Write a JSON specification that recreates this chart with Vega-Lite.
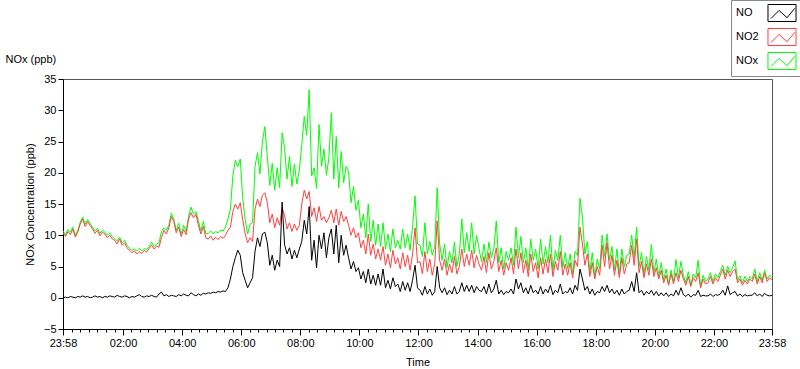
{
"$schema": "https://vega.github.io/schema/vega-lite/v6.json",
"width": 709, "height": 250,
"autosize": {"type": "none"},
"padding": {"left": 63, "top": 79, "right": 28, "bottom": 40},
"background": "white",
"config": {
  "font": "Liberation Sans",
  "view": {"stroke": "#555", "strokeWidth": 1},
  "axis": {"labelFont": "Liberation Sans", "labelFontSize": 11, "labelColor": "#000", "titleFont": "Liberation Sans", "titleFontSize": 11, "titleFontWeight": "normal", "titleColor": "#000", "domainColor": "#000", "tickColor": "#000", "grid": false},
  "axisY": {"labelOverlap": false}
},
"data": {"values": [
{"t":0,"NO":0.0,"NO2":10.4,"NOx":10.7},{"t":5,"NO":0.1,"NO2":9.8,"NOx":10.1},{"t":10,"NO":0.0,"NO2":10.6,"NOx":10.9},{"t":15,"NO":0.2,"NO2":10.1,"NOx":10.5},{"t":20,"NO":0.1,"NO2":11.0,"NOx":11.3},{"t":25,"NO":0.0,"NO2":9.7,"NOx":10.0},{"t":30,"NO":0.2,"NO2":10.5,"NOx":10.8},{"t":35,"NO":0.1,"NO2":11.8,"NOx":12.1},{"t":40,"NO":0.3,"NO2":12.6,"NOx":12.9},{"t":45,"NO":0.1,"NO2":11.4,"NOx":11.8},
{"t":50,"NO":0.2,"NO2":12.2,"NOx":12.5},{"t":55,"NO":0.0,"NO2":11.6,"NOx":11.9},{"t":60,"NO":0.1,"NO2":11.0,"NOx":11.3},{"t":65,"NO":0.3,"NO2":10.3,"NOx":10.7},{"t":70,"NO":0.1,"NO2":10.8,"NOx":11.1},{"t":75,"NO":0.2,"NO2":9.9,"NOx":10.3},{"t":80,"NO":0.0,"NO2":10.5,"NOx":10.8},{"t":85,"NO":0.2,"NO2":10.2,"NOx":10.5},{"t":90,"NO":0.1,"NO2":9.6,"NOx":10.0},{"t":95,"NO":0.3,"NO2":10.0,"NOx":10.4},
{"t":100,"NO":0.2,"NO2":9.4,"NOx":9.8},{"t":105,"NO":0.1,"NO2":9.2,"NOx":9.5},{"t":110,"NO":0.4,"NO2":8.6,"NOx":9.1},{"t":115,"NO":0.2,"NO2":9.4,"NOx":9.7},{"t":120,"NO":0.1,"NO2":8.4,"NOx":8.8},{"t":125,"NO":0.3,"NO2":8.8,"NOx":9.2},{"t":130,"NO":0.2,"NO2":8.0,"NOx":8.4},{"t":135,"NO":0.0,"NO2":7.6,"NOx":7.9},{"t":140,"NO":0.2,"NO2":7.2,"NOx":7.6},{"t":145,"NO":0.1,"NO2":7.5,"NOx":7.8},
{"t":150,"NO":0.3,"NO2":7.0,"NOx":7.5},{"t":155,"NO":0.5,"NO2":7.4,"NOx":7.9},{"t":160,"NO":0.2,"NO2":7.1,"NOx":7.5},{"t":165,"NO":0.1,"NO2":7.6,"NOx":7.9},{"t":170,"NO":0.3,"NO2":7.3,"NOx":7.7},{"t":175,"NO":0.2,"NO2":7.9,"NOx":8.2},{"t":180,"NO":0.4,"NO2":8.4,"NOx":8.9},{"t":185,"NO":0.2,"NO2":7.8,"NOx":8.2},{"t":190,"NO":0.1,"NO2":8.3,"NOx":8.6},{"t":195,"NO":0.6,"NO2":8.1,"NOx":8.8},
{"t":200,"NO":0.9,"NO2":9.6,"NOx":10.6},{"t":205,"NO":0.3,"NO2":10.8,"NOx":11.2},{"t":210,"NO":0.5,"NO2":10.2,"NOx":10.8},{"t":215,"NO":0.2,"NO2":11.2,"NOx":11.6},{"t":220,"NO":0.4,"NO2":13.0,"NOx":13.5},{"t":225,"NO":0.3,"NO2":12.2,"NOx":12.6},{"t":230,"NO":0.2,"NO2":10.4,"NOx":10.8},{"t":235,"NO":0.5,"NO2":11.3,"NOx":11.9},{"t":240,"NO":0.3,"NO2":9.8,"NOx":10.2},{"t":245,"NO":0.6,"NO2":10.9,"NOx":11.6},
{"t":250,"NO":0.4,"NO2":10.1,"NOx":10.6},{"t":255,"NO":0.3,"NO2":12.6,"NOx":13.0},{"t":260,"NO":0.8,"NO2":13.6,"NOx":14.5},{"t":265,"NO":0.5,"NO2":12.8,"NOx":13.4},{"t":270,"NO":0.3,"NO2":13.4,"NOx":13.8},{"t":275,"NO":0.6,"NO2":11.6,"NOx":12.3},{"t":280,"NO":0.4,"NO2":10.2,"NOx":10.7},{"t":285,"NO":0.7,"NO2":11.4,"NOx":12.2},{"t":290,"NO":0.6,"NO2":9.6,"NOx":10.3},{"t":295,"NO":0.8,"NO2":9.4,"NOx":10.3},
{"t":300,"NO":0.7,"NO2":9.9,"NOx":10.7},{"t":305,"NO":0.9,"NO2":9.2,"NOx":10.2},{"t":310,"NO":0.8,"NO2":9.7,"NOx":10.6},{"t":315,"NO":1.0,"NO2":9.3,"NOx":10.4},{"t":320,"NO":0.9,"NO2":9.8,"NOx":10.8},{"t":325,"NO":1.1,"NO2":9.5,"NOx":10.7},{"t":330,"NO":1.0,"NO2":10.0,"NOx":11.3},{"t":335,"NO":1.6,"NO2":10.8,"NOx":12.6},{"t":340,"NO":3.0,"NO2":11.3,"NOx":14.2},{"t":345,"NO":5.0,"NO2":13.8,"NOx":19.5},
{"t":350,"NO":6.4,"NO2":15.0,"NOx":22.0},{"t":355,"NO":7.6,"NO2":14.2,"NOx":21.0},{"t":360,"NO":6.8,"NO2":15.2,"NOx":22.2},{"t":365,"NO":4.0,"NO2":12.5,"NOx":16.0},{"t":370,"NO":2.8,"NO2":10.2,"NOx":12.5},{"t":375,"NO":1.6,"NO2":8.8,"NOx":10.2},{"t":380,"NO":2.4,"NO2":9.6,"NOx":11.8},{"t":385,"NO":3.2,"NO2":9.0,"NOx":12.0},{"t":390,"NO":7.4,"NO2":14.2,"NOx":21.0},{"t":395,"NO":9.6,"NO2":15.8,"NOx":23.2},
{"t":400,"NO":8.2,"NO2":14.6,"NOx":19.8},{"t":405,"NO":10.2,"NO2":16.4,"NOx":25.0},{"t":410,"NO":10.5,"NO2":16.8,"NOx":27.4},{"t":415,"NO":8.8,"NO2":15.2,"NOx":22.5},{"t":420,"NO":5.2,"NO2":12.0,"NOx":18.0},{"t":425,"NO":6.8,"NO2":13.4,"NOx":21.5},{"t":430,"NO":4.4,"NO2":11.2,"NOx":17.2},{"t":435,"NO":6.0,"NO2":12.8,"NOx":20.8},{"t":440,"NO":5.0,"NO2":11.6,"NOx":17.6},{"t":445,"NO":15.3,"NO2":14.4,"NOx":26.4},
{"t":450,"NO":8.5,"NO2":13.2,"NOx":24.0},{"t":455,"NO":7.0,"NO2":11.0,"NOx":19.0},{"t":460,"NO":8.0,"NO2":12.0,"NOx":22.6},{"t":465,"NO":6.2,"NO2":10.6,"NOx":17.8},{"t":470,"NO":7.6,"NO2":11.8,"NOx":21.4},{"t":475,"NO":6.4,"NO2":10.8,"NOx":18.2},{"t":480,"NO":7.8,"NO2":11.6,"NOx":20.4},{"t":485,"NO":9.0,"NO2":15.0,"NOx":24.5},{"t":490,"NO":12.4,"NO2":17.2,"NOx":29.0},{"t":495,"NO":10.2,"NO2":15.8,"NOx":26.0},
{"t":500,"NO":14.6,"NO2":17.0,"NOx":33.3},{"t":505,"NO":6.0,"NO2":13.0,"NOx":19.5},{"t":510,"NO":9.2,"NO2":14.4,"NOx":20.8},{"t":515,"NO":4.8,"NO2":12.2,"NOx":17.5},{"t":520,"NO":10.0,"NO2":14.6,"NOx":27.7},{"t":525,"NO":7.8,"NO2":12.4,"NOx":21.0},{"t":530,"NO":10.4,"NO2":13.0,"NOx":23.8},{"t":535,"NO":6.4,"NO2":12.0,"NOx":19.6},{"t":540,"NO":9.6,"NO2":12.8,"NOx":22.4},{"t":545,"NO":11.0,"NO2":14.0,"NOx":29.6},
{"t":550,"NO":7.0,"NO2":12.0,"NOx":19.0},{"t":555,"NO":11.6,"NO2":14.2,"NOx":25.8},{"t":560,"NO":5.6,"NO2":11.6,"NOx":17.6},{"t":565,"NO":10.0,"NO2":13.8,"NOx":23.4},{"t":570,"NO":6.8,"NO2":12.2,"NOx":18.4},{"t":575,"NO":8.4,"NO2":13.0,"NOx":21.0},{"t":580,"NO":6.4,"NO2":11.6,"NOx":20.2},{"t":585,"NO":4.6,"NO2":10.0,"NOx":15.2},{"t":590,"NO":5.8,"NO2":11.2,"NOx":17.8},{"t":595,"NO":4.2,"NO2":9.6,"NOx":14.0},
{"t":600,"NO":4.8,"NO2":10.4,"NOx":15.6},{"t":605,"NO":3.0,"NO2":8.0,"NOx":11.2},{"t":610,"NO":4.2,"NO2":9.2,"NOx":13.4},{"t":615,"NO":2.4,"NO2":7.0,"NOx":9.6},{"t":620,"NO":4.6,"NO2":10.2,"NOx":15.0},{"t":625,"NO":2.2,"NO2":6.8,"NOx":9.0},{"t":630,"NO":3.6,"NO2":8.6,"NOx":12.4},{"t":635,"NO":2.0,"NO2":6.2,"NOx":8.4},{"t":640,"NO":3.8,"NO2":7.8,"NOx":11.8},{"t":645,"NO":2.0,"NO2":6.0,"NOx":8.2},
{"t":650,"NO":4.6,"NO2":8.2,"NOx":12.0},{"t":655,"NO":1.6,"NO2":5.2,"NOx":7.8},{"t":660,"NO":2.8,"NO2":7.0,"NOx":10.2},{"t":665,"NO":1.4,"NO2":4.8,"NOx":7.4},{"t":670,"NO":3.2,"NO2":7.6,"NOx":11.0},{"t":675,"NO":1.8,"NO2":5.4,"NOx":8.0},{"t":680,"NO":2.2,"NO2":6.4,"NOx":9.2},{"t":685,"NO":1.0,"NO2":4.6,"NOx":7.8},{"t":690,"NO":2.6,"NO2":7.2,"NOx":11.0},{"t":695,"NO":1.2,"NO2":5.0,"NOx":8.0},
{"t":700,"NO":2.4,"NO2":6.8,"NOx":10.2},{"t":705,"NO":1.0,"NO2":4.4,"NOx":7.6},{"t":710,"NO":2.8,"NO2":7.0,"NOx":11.4},{"t":715,"NO":5.2,"NO2":11.2,"NOx":16.3},{"t":720,"NO":1.6,"NO2":5.6,"NOx":8.6},{"t":725,"NO":1.2,"NO2":5.8,"NOx":8.4},{"t":730,"NO":0.4,"NO2":3.8,"NOx":6.6},{"t":735,"NO":1.8,"NO2":7.4,"NOx":12.0},{"t":740,"NO":0.6,"NO2":4.2,"NOx":7.0},{"t":745,"NO":1.4,"NO2":6.2,"NOx":9.0},
{"t":750,"NO":0.4,"NO2":3.6,"NOx":6.8},{"t":755,"NO":1.0,"NO2":5.4,"NOx":8.2},{"t":760,"NO":5.0,"NO2":12.3,"NOx":17.6},{"t":765,"NO":1.6,"NO2":6.0,"NOx":8.6},{"t":770,"NO":0.8,"NO2":4.4,"NOx":6.0},{"t":775,"NO":1.6,"NO2":6.2,"NOx":8.6},{"t":780,"NO":0.5,"NO2":3.6,"NOx":4.8},{"t":785,"NO":1.2,"NO2":5.4,"NOx":7.4},{"t":790,"NO":0.6,"NO2":4.0,"NOx":5.6},{"t":795,"NO":1.8,"NO2":6.6,"NOx":8.9},
{"t":800,"NO":0.6,"NO2":3.8,"NOx":5.0},{"t":805,"NO":1.0,"NO2":5.0,"NOx":7.0},{"t":810,"NO":2.4,"NO2":7.8,"NOx":12.6},{"t":815,"NO":1.0,"NO2":5.0,"NOx":7.2},{"t":820,"NO":2.0,"NO2":7.0,"NOx":10.4},{"t":825,"NO":1.0,"NO2":5.2,"NOx":7.4},{"t":830,"NO":2.0,"NO2":7.6,"NOx":12.0},{"t":835,"NO":0.8,"NO2":4.8,"NOx":7.0},{"t":840,"NO":1.8,"NO2":6.8,"NOx":10.0},{"t":845,"NO":1.2,"NO2":5.4,"NOx":7.8},
{"t":850,"NO":1.0,"NO2":4.4,"NOx":5.8},{"t":855,"NO":1.8,"NO2":6.6,"NOx":8.6},{"t":860,"NO":0.6,"NO2":4.0,"NOx":5.6},{"t":865,"NO":2.2,"NO2":7.2,"NOx":8.9},{"t":870,"NO":0.8,"NO2":4.6,"NOx":6.4},{"t":875,"NO":1.4,"NO2":5.8,"NOx":7.8},{"t":880,"NO":2.8,"NO2":8.0,"NOx":12.3},{"t":885,"NO":0.6,"NO2":4.2,"NOx":5.6},{"t":890,"NO":1.2,"NO2":6.0,"NOx":8.0},{"t":895,"NO":0.5,"NO2":3.6,"NOx":4.6},
{"t":900,"NO":1.0,"NO2":5.6,"NOx":7.4},{"t":905,"NO":0.8,"NO2":4.4,"NOx":6.0},{"t":910,"NO":1.4,"NO2":6.4,"NOx":8.0},{"t":915,"NO":0.6,"NO2":3.8,"NOx":5.2},{"t":920,"NO":3.0,"NO2":7.8,"NOx":11.3},{"t":925,"NO":1.4,"NO2":4.6,"NOx":6.4},{"t":930,"NO":2.4,"NO2":7.2,"NOx":9.8},{"t":935,"NO":0.8,"NO2":4.0,"NOx":5.6},{"t":940,"NO":1.6,"NO2":6.0,"NOx":8.0},{"t":945,"NO":0.6,"NO2":3.4,"NOx":4.4},
{"t":950,"NO":2.0,"NO2":7.0,"NOx":9.4},{"t":955,"NO":0.8,"NO2":4.2,"NOx":6.0},{"t":960,"NO":1.2,"NO2":5.6,"NOx":7.8},{"t":965,"NO":0.6,"NO2":3.2,"NOx":4.6},{"t":970,"NO":1.8,"NO2":6.4,"NOx":9.4},{"t":975,"NO":0.6,"NO2":3.8,"NOx":5.4},{"t":980,"NO":1.4,"NO2":6.2,"NOx":8.2},{"t":985,"NO":0.8,"NO2":4.0,"NOx":5.6},{"t":990,"NO":2.0,"NO2":7.0,"NOx":10.0},{"t":995,"NO":0.5,"NO2":3.4,"NOx":4.4},
{"t":1000,"NO":1.2,"NO2":5.8,"NOx":7.6},{"t":1005,"NO":0.8,"NO2":4.4,"NOx":6.0},{"t":1010,"NO":2.2,"NO2":7.4,"NOx":10.0},{"t":1015,"NO":0.6,"NO2":3.6,"NOx":4.8},{"t":1020,"NO":1.0,"NO2":5.4,"NOx":7.2},{"t":1025,"NO":0.8,"NO2":3.6,"NOx":4.6},{"t":1030,"NO":1.6,"NO2":5.6,"NOx":7.0},{"t":1035,"NO":0.6,"NO2":3.2,"NOx":3.8},{"t":1040,"NO":2.0,"NO2":6.0,"NOx":7.4},{"t":1045,"NO":1.2,"NO2":5.0,"NOx":6.8},
{"t":1050,"NO":4.6,"NO2":11.3,"NOx":15.9},{"t":1055,"NO":3.0,"NO2":8.6,"NOx":12.9},{"t":1060,"NO":1.2,"NO2":5.2,"NOx":7.0},{"t":1065,"NO":1.8,"NO2":7.0,"NOx":9.0},{"t":1070,"NO":0.6,"NO2":3.4,"NOx":4.0},{"t":1075,"NO":1.4,"NO2":5.6,"NOx":7.2},{"t":1080,"NO":0.4,"NO2":3.0,"NOx":3.4},{"t":1085,"NO":1.0,"NO2":5.0,"NOx":6.2},{"t":1090,"NO":0.8,"NO2":3.6,"NOx":4.6},{"t":1095,"NO":1.8,"NO2":8.4,"NOx":10.0},
{"t":1100,"NO":1.0,"NO2":5.0,"NOx":6.6},{"t":1105,"NO":2.0,"NO2":8.8,"NOx":10.2},{"t":1110,"NO":0.8,"NO2":4.6,"NOx":6.0},{"t":1115,"NO":1.4,"NO2":6.8,"NOx":8.2},{"t":1120,"NO":0.6,"NO2":3.6,"NOx":4.4},{"t":1125,"NO":1.2,"NO2":6.0,"NOx":7.8},{"t":1130,"NO":0.4,"NO2":3.2,"NOx":3.8},{"t":1135,"NO":1.4,"NO2":6.4,"NOx":7.8},{"t":1140,"NO":0.6,"NO2":3.8,"NOx":5.0},{"t":1145,"NO":1.0,"NO2":5.4,"NOx":6.8},
{"t":1150,"NO":1.2,"NO2":5.6,"NOx":7.0},{"t":1155,"NO":2.6,"NO2":8.4,"NOx":10.0},{"t":1160,"NO":1.0,"NO2":5.2,"NOx":6.4},{"t":1165,"NO":4.0,"NO2":9.4,"NOx":11.3},{"t":1170,"NO":0.8,"NO2":4.0,"NOx":5.0},{"t":1175,"NO":1.2,"NO2":5.8,"NOx":7.2},{"t":1180,"NO":0.4,"NO2":3.2,"NOx":3.8},{"t":1185,"NO":1.0,"NO2":5.4,"NOx":6.6},{"t":1190,"NO":0.6,"NO2":3.6,"NOx":4.4},{"t":1195,"NO":1.2,"NO2":6.2,"NOx":8.5},
{"t":1200,"NO":0.4,"NO2":3.4,"NOx":4.0},{"t":1205,"NO":1.0,"NO2":4.8,"NOx":6.2},{"t":1210,"NO":0.3,"NO2":3.0,"NOx":3.4},{"t":1215,"NO":0.8,"NO2":4.4,"NOx":5.6},{"t":1220,"NO":0.3,"NO2":2.4,"NOx":2.8},{"t":1225,"NO":0.8,"NO2":3.6,"NOx":4.6},{"t":1230,"NO":0.2,"NO2":2.0,"NOx":2.2},{"t":1235,"NO":0.6,"NO2":3.8,"NOx":4.4},{"t":1240,"NO":0.3,"NO2":2.2,"NOx":2.6},{"t":1245,"NO":1.2,"NO2":4.0,"NOx":6.1},
{"t":1250,"NO":0.4,"NO2":2.6,"NOx":3.2},{"t":1255,"NO":1.6,"NO2":4.4,"NOx":5.8},{"t":1260,"NO":0.5,"NO2":3.0,"NOx":3.6},{"t":1265,"NO":0.2,"NO2":2.0,"NOx":2.4},{"t":1270,"NO":0.6,"NO2":3.4,"NOx":4.2},{"t":1275,"NO":0.1,"NO2":1.8,"NOx":2.0},{"t":1280,"NO":0.5,"NO2":3.2,"NOx":3.8},{"t":1285,"NO":0.4,"NO2":2.6,"NOx":3.2},{"t":1290,"NO":1.2,"NO2":4.0,"NOx":6.0},{"t":1295,"NO":0.2,"NO2":1.6,"NOx":1.8},
{"t":1300,"NO":0.4,"NO2":3.0,"NOx":3.6},{"t":1305,"NO":0.3,"NO2":2.2,"NOx":2.6},{"t":1310,"NO":0.3,"NO2":2.4,"NOx":3.0},{"t":1315,"NO":0.6,"NO2":3.4,"NOx":4.0},{"t":1320,"NO":0.2,"NO2":2.2,"NOx":2.6},{"t":1325,"NO":0.5,"NO2":3.2,"NOx":3.8},{"t":1330,"NO":0.4,"NO2":2.6,"NOx":3.2},{"t":1335,"NO":0.6,"NO2":3.6,"NOx":4.2},{"t":1340,"NO":1.2,"NO2":4.6,"NOx":5.2},{"t":1345,"NO":0.4,"NO2":3.0,"NOx":3.6},
{"t":1350,"NO":1.9,"NO2":4.4,"NOx":5.0},{"t":1355,"NO":0.5,"NO2":3.4,"NOx":4.0},{"t":1360,"NO":0.8,"NO2":4.2,"NOx":4.8},{"t":1365,"NO":1.0,"NO2":4.6,"NOx":5.9},{"t":1370,"NO":0.3,"NO2":2.4,"NOx":2.8},{"t":1375,"NO":0.6,"NO2":3.0,"NOx":3.5},{"t":1380,"NO":0.2,"NO2":2.0,"NOx":2.4},{"t":1385,"NO":0.5,"NO2":2.8,"NOx":3.4},{"t":1390,"NO":0.3,"NO2":2.2,"NOx":2.6},{"t":1395,"NO":0.4,"NO2":3.0,"NOx":3.4},
{"t":1400,"NO":0.4,"NO2":2.6,"NOx":3.0},{"t":1405,"NO":0.8,"NO2":3.8,"NOx":4.6},{"t":1410,"NO":0.3,"NO2":2.2,"NOx":2.6},{"t":1415,"NO":0.6,"NO2":3.4,"NOx":4.0},{"t":1420,"NO":0.2,"NO2":2.4,"NOx":2.8},{"t":1425,"NO":0.7,"NO2":4.0,"NOx":4.4},{"t":1430,"NO":0.4,"NO2":2.6,"NOx":3.0},{"t":1435,"NO":0.3,"NO2":3.2,"NOx":3.6},{"t":1440,"NO":0.4,"NO2":2.8,"NOx":3.2}
]},
"layer": [
  {"mark": {"type": "line", "strokeWidth": 1},
   "encoding": {
     "x": {"field": "t", "type": "quantitative", "scale": {"domain": [0, 1440], "nice": false, "zero": false},
           "axis": {"orient": "bottom", "values": [0,122,242,362,482,602,722,842,962,1082,1202,1322,1440],
                    "labelExpr": "datum.value == 0 || datum.value == 1440 ? '23:58' : (floor((datum.value - 2) / 60) < 10 ? '0' : '') + floor((datum.value - 2) / 60) + ':00'",
                    "title": "Time", "tickSize": 6, "labelPadding": 2, "titlePadding": 8, "labelOverlap": false, "labelFlush": false}},
     "y": {"field": "NOx", "type": "quantitative", "scale": {"domain": [-5, 35], "nice": false, "zero": false},
           "axis": {"values": [-5,0,5,10,15,20,25,30,35], "title": "NOx Concentration (ppb)", "tickSize": 5, "labelPadding": 2, "titlePadding": 8, "labelOverlap": false, "labelFlush": false}},
     "color": {"datum": "NOx", "type": "nominal",
               "scale": {"domain": ["NO", "NO2", "NOx"], "range": ["#000000", "#FF4040", "#00FF00"]},
               "legend": {"title": null, "orient": "none", "legendX": 668, "legendY": -79,
                          "symbolType": "M-1.65,-1H1.65V1H-1.65Z M-1.3,0.65L-0.35,-0.3L0.6,0.55L1.5,-0.55",
                          "symbolSize": 289, "symbolStrokeWidth": 1, "symbolFillColor": "transparent",
                          "symbolOffset": 38, "labelOffset": -55, "labelFontSize": 11, "labelFont": "Liberation Sans", "labelColor": "#000",
                          "rowPadding": 2, "padding": 4, "strokeColor": "#888", "fillColor": "#fff"}}
   }},
  {"mark": {"type": "line", "strokeWidth": 1},
   "encoding": {
     "x": {"field": "t", "type": "quantitative",
           "axis": {"orient": "bottom", "values": [17.4,34.9,52.3,69.7,87.1,104.6,139.1,156.3,173.4,190.6,207.7,224.9,259.1,276.3,293.4,310.6,327.7,344.9,379.1,396.3,413.4,430.6,447.7,464.9,499.1,516.3,533.4,550.6,567.7,584.9,619.1,636.3,653.4,670.6,687.7,704.9,739.1,756.3,773.4,790.6,807.7,824.9,859.1,876.3,893.4,910.6,927.7,944.9,979.1,996.3,1013.4,1030.6,1047.7,1064.9,1099.1,1116.3,1133.4,1150.6,1167.7,1184.9,1219.1,1236.3,1253.4,1270.6,1287.7,1304.9,1338.9,1355.7,1372.6,1389.4,1406.3,1423.1],
                    "labels": false, "domain": false, "tickSize": 3, "title": null}},
     "y": {"field": "NO2", "type": "quantitative",
           "axis": {"values": [-5,0,5,10,15,20,25,30,35], "title": "NOx Concentration (ppb)", "tickSize": 5, "labelPadding": 2, "titlePadding": 8, "labelOverlap": false, "labelFlush": false}},
     "color": {"datum": "NO2", "type": "nominal"}
   }},
  {"mark": {"type": "line", "strokeWidth": 1},
   "encoding": {
     "x": {"field": "t", "type": "quantitative",
           "axis": {"orient": "top", "labels": false, "ticks": false, "domain": false, "title": "NOx (ppb)",
                    "titleX": -58, "titleY": -15, "titleAlign": "left", "titleBaseline": "bottom", "titleAngle": 0}},
     "y": {"field": "NO", "type": "quantitative",
           "axis": {"values": [-5,0,5,10,15,20,25,30,35], "title": "NOx Concentration (ppb)", "tickSize": 5, "labelPadding": 2, "titlePadding": 8, "labelOverlap": false, "labelFlush": false}},
     "color": {"datum": "NO", "type": "nominal"}
   }}
],
"resolve": {"axis": {"x": "independent"}}
}
